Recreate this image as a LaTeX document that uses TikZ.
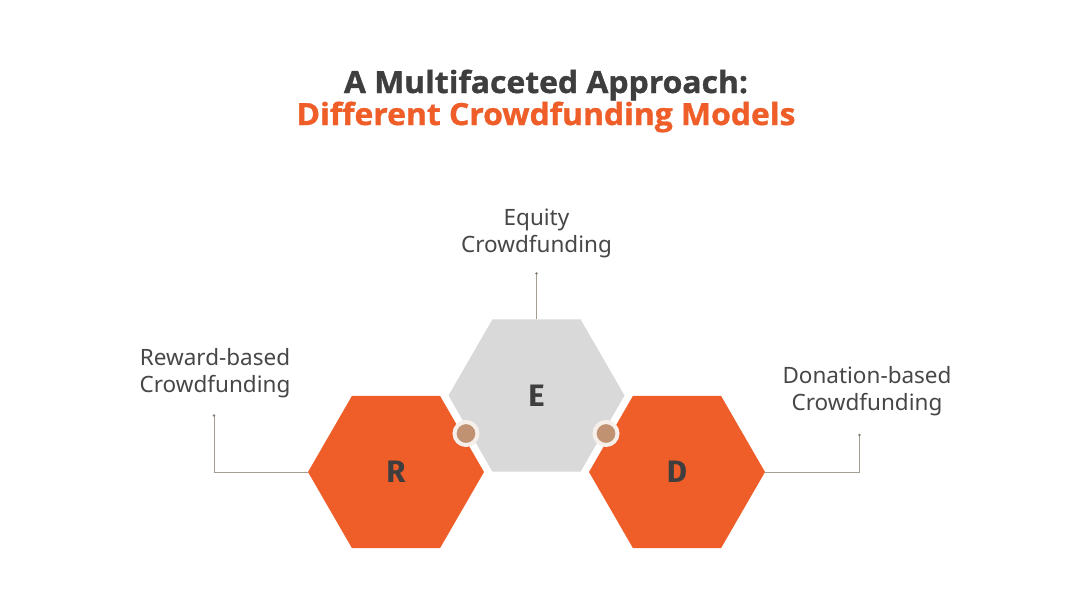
\documentclass[tikz,border=0pt]{standalone}
\usepackage{fontspec}
\setmainfont{Noto Sans}
\newfontfamily\titlefont{Open Sans}[BoldFeatures={FakeStretch=1.045,FakeBold=1.2}]
\newfontfamily\hexfont{Fira Sans}
\usetikzlibrary{shapes.geometric}
\definecolor{orng}{HTML}{EF5E29}
\definecolor{hexgray}{HTML}{D9D9D9}
\definecolor{darktxt}{HTML}{3E3E3E}
\definecolor{labeltxt}{HTML}{474747}
\definecolor{connc}{HTML}{A39D92}
\definecolor{dotc}{HTML}{C09272}
\definecolor{ringc}{HTML}{F6EFEA}
\tikzset{
  hexbox/.style={regular polygon, regular polygon sides=6, minimum size=176pt, inner sep=0pt, outer sep=0pt, font=\hexfont\bfseries\fontsize{31}{31}\selectfont, text=darktxt},
  conn/.style={draw=connc, line width=0.8pt},
  enddot/.style={circle, fill=connc!80!black, inner sep=0pt, minimum size=2.6pt},
  lbl/.style={align=center, anchor=base, text=labeltxt, font=\fontsize{22.5}{26.5}\selectfont},
  ttl/.style={anchor=base, font=\titlefont\bfseries\fontsize{30.5}{32}\selectfont},
  joint/.style={circle, fill=dotc, draw=ringc, line width=4pt, minimum size=23pt, inner sep=0pt}
}
\begin{document}
\begin{tikzpicture}[x=1pt,y=-1pt]
\useasboundingbox (0,0) rectangle (1092,614);
\fill[white] (0,0) rectangle (1092,614);
% title
\node[ttl, text=darktxt] (title1) at (546,93) {A Multifaceted Approach:};
\node[ttl, text=orng] (title2) at (546,125) {Different Crowdfunding Models};
% hexagons
\node[hexbox, fill=orng] (R) at (396,472) {R};
\node[hexbox, fill=hexgray] (E) at (536.5,395.5) {E};
\node[hexbox, fill=orng] (D) at (677,472) {D};
% joints
\node[joint] (j1) at (466,433.5) {};
\node[joint] (j2) at (606,433.5) {};
% connector end points
\coordinate (eR) at (214,415.5);
\coordinate (eE) at (536.5,273.5);
\coordinate (eD) at (859.5,435);
\draw[conn] (R.west) -| (eR);
\draw[conn] (E.north) -- (eE);
\draw[conn] (D.east) -| (eD);
\node[enddot] (dR) at (eR) {};
\node[enddot] (dE) at (eE) {};
\node[enddot] (dD) at (eD) {};
% labels
\node[lbl] (lE) at (536.5,252) {Equity\\Crowdfunding};
\node[lbl] (lR) at (215,392) {Reward-based\\Crowdfunding};
\node[lbl] (lD) at (867,410) {Donation-based\\Crowdfunding};
\end{tikzpicture}
\end{document}
